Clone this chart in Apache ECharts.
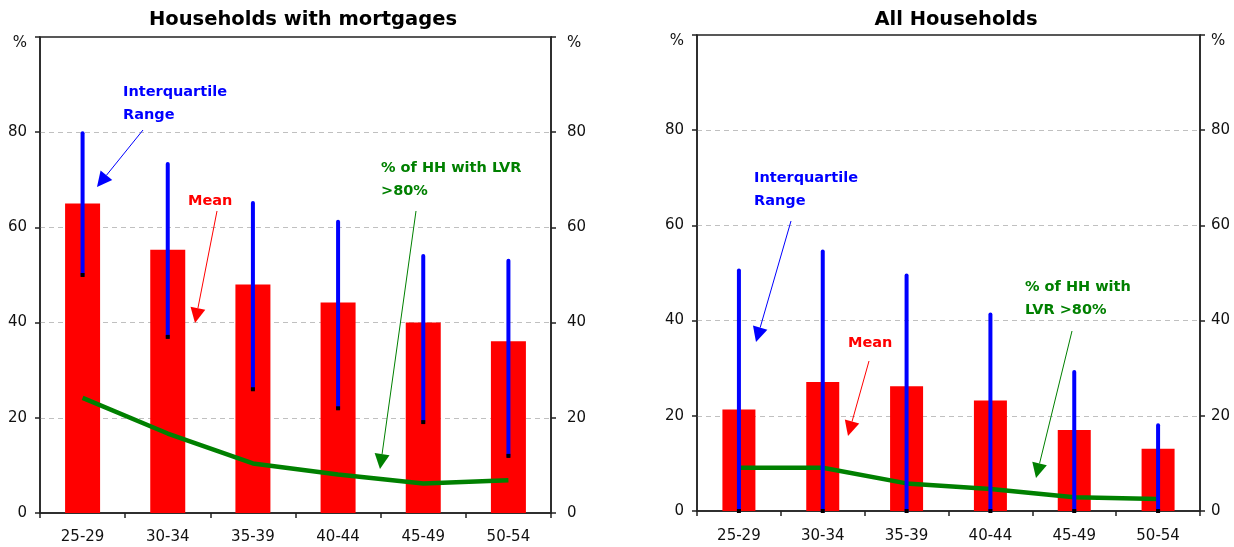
<!DOCTYPE html>
<html><head><meta charset="utf-8">
<script src="https://cdn.jsdelivr.net/npm/echarts@6/dist/echarts.min.js"></script>
<style>html,body{margin:0;padding:0;background:#fff}#c{width:1234px;height:547px}</style>
</head><body><div id="c"></div>
<script>
// ---- data ----
const categories = ['25-29', '30-34', '35-39', '40-44', '45-49', '50-54'];
const yTicks = [0, 20, 40, 60, 80, 100];
// Households with mortgages
const mortMean = [65, 55.3, 48, 44.2, 40, 36.1];
const mortQ1 = [50, 37, 26, 22, 19.1, 12];
const mortQ3 = [79.8, 73.3, 65.1, 61.2, 54, 53];
const mortLvr = [24.2, 16.7, 10.4, 8.1, 6.2, 6.9];
// All households
const allMean = [21.3, 27.1, 26.2, 23.2, 17, 13.1];
const allQ1 = [0, 0, 0, 0, 0, 0];
const allQ3 = [50.5, 54.5, 49.5, 41.3, 29.2, 18];
const allLvr = [9.1, 9.1, 5.8, 4.6, 2.9, 2.5];

const FONT = 'DejaVu Sans';
const AX = '#222';
const chart = echarts.init(document.getElementById('c'), null, {renderer: 'canvas'});

function xAxis(gi) {
  return {
    type: 'category', gridIndex: gi, data: categories, boundaryGap: true,
    axisLine: {show: true, lineStyle: {color: AX, width: 1.5}},
    axisTick: {show: true, length: 5, alignWithLabel: false, lineStyle: {color: AX, width: 1.5}},
    axisLabel: {color: '#111', fontFamily: FONT, fontSize: 15, margin: gi ? 18 : 17},
    splitLine: {show: false}
  };
}
function yAxis(gi, pos) {
  return {
    type: 'value', gridIndex: gi, position: pos,
    min: yTicks[0], max: yTicks[yTicks.length - 1], interval: yTicks[1] - yTicks[0],
    axisLine: {show: true, onZero: false, lineStyle: {color: AX, width: 1.5}},
    axisTick: {show: true, inside: false, length: 5, lineStyle: {color: AX, width: 1.5}},
    axisLabel: {
      color: '#111', fontFamily: FONT, fontSize: 15,
      margin: pos === 'left' ? 13 : (gi ? 11 : 16),
      formatter: v => v === 100 ? '{p|%}' : String(v),
      rich: {p: {fontFamily: FONT, fontSize: 15, color: '#111', padding: [12, 0, 0, 0]}}
    },
    splitLine: pos === 'left'
      ? {show: true, showMinLine: false, showMaxLine: false, lineStyle: {color: '#c0c0c0', type: [5, 4], width: 1}}
      : {show: false}
  };
}

function iqrRender(params, api) {
  const i = api.value(0);
  const lo = api.coord([i, api.value(1)]);
  const hi = api.coord([i, api.value(2)]);
  return {
    type: 'group', children: [
      {type: 'line', shape: {x1: lo[0], y1: lo[1], x2: hi[0], y2: hi[1]},
        style: {stroke: '#0000ff', lineWidth: 4, lineCap: 'round'}},
      {type: 'rect', shape: {x: lo[0] - 2, y: lo[1] - 2, width: 4, height: 4}, style: {fill: '#000'}}
    ]
  };
}

function seriesFor(gi, mean, q1, q3, lvr, bw) {
  return [
    {type: 'bar', xAxisIndex: gi, yAxisIndex: gi * 2, data: mean, barWidth: bw,
      itemStyle: {color: '#ff0000'}, z: 2, silent: true},
    {type: 'line', xAxisIndex: gi, yAxisIndex: gi * 2, data: lvr, symbol: 'none',
      lineStyle: {color: '#008000', width: 4.5}, z: 3, silent: true},
    {type: 'custom', xAxisIndex: gi, yAxisIndex: gi * 2,
      data: categories.map((c, i) => [i, q1[i], q3[i]]),
      encode: {x: 0, y: [1, 2]}, renderItem: iqrRender, z: 4, silent: true, clip: false}
  ];
}

function arrow(x1, y1, x2, y2, color) {
  const dx = x2 - x1, dy = y2 - y1, L = Math.hypot(dx, dy), ux = dx / L, uy = dy / L;
  const hl = 15, hw = 7.5;
  const bx = x2 - ux * hl, by = y2 - uy * hl;
  return [
    {type: 'line', shape: {x1: x1, y1: y1, x2: bx, y2: by}, style: {stroke: color, lineWidth: 1}, z: 10},
    {type: 'polygon', shape: {points: [[x2, y2], [bx - uy * hw, by + ux * hw], [bx + uy * hw, by - ux * hw]]},
      style: {fill: color}, z: 10}
  ];
}
function note(x, yFirstCenter, text, color) {
  return {type: 'text', x: x, y: yFirstCenter - 11.5, z: 10,
    style: {text: text, fill: color, font: 'bold 14.5px "DejaVu Sans"', lineHeight: 23, verticalAlign: 'top', align: 'left'}};
}
function title(x, text) {
  return {type: 'text', x: x, y: 20, z: 10,
    style: {text: text, fill: '#000', font: 'bold 19.5px "DejaVu Sans"', align: 'center', verticalAlign: 'middle'}};
}

const BLUE = '#0000ff', RED = '#ff0000', GREEN = '#008000';
const graphics = [
  title(303, 'Households with mortgages'),
  title(956, 'All Households'),
  note(123, 92, 'Interquartile\nRange', BLUE),
  ...arrow(143, 130, 97, 187, BLUE),
  note(188, 201, 'Mean', RED),
  ...arrow(217, 211, 195, 323, RED),
  note(381, 168, '% of HH with LVR\n>80%', GREEN),
  ...arrow(416, 211, 380, 469, GREEN),
  note(754, 178, 'Interquartile\nRange', BLUE),
  ...arrow(791, 221, 756, 342, BLUE),
  note(848, 343, 'Mean', RED),
  ...arrow(869, 361, 848, 436, RED),
  note(1025, 287, '% of HH with\nLVR >80%', GREEN),
  ...arrow(1072, 331, 1036, 478, GREEN)
];

chart.setOption({
  animation: false,
  backgroundColor: '#fff',
  grid: [
    {left: 40, top: 37, width: 511, height: 476, show: true, borderColor: AX, borderWidth: 1.5, backgroundColor: 'transparent'},
    {left: 697, top: 35, width: 503, height: 476, show: true, borderColor: AX, borderWidth: 1.5, backgroundColor: 'transparent'}
  ],
  xAxis: [xAxis(0), xAxis(1)],
  yAxis: [yAxis(0, 'left'), yAxis(0, 'right'), yAxis(1, 'left'), yAxis(1, 'right')],
  series: [
    ...seriesFor(0, mortMean, mortQ1, mortQ3, mortLvr, 35),
    ...seriesFor(1, allMean, allQ1, allQ3, allLvr, 33)
  ],
  graphic: graphics
});
</script></body></html>
